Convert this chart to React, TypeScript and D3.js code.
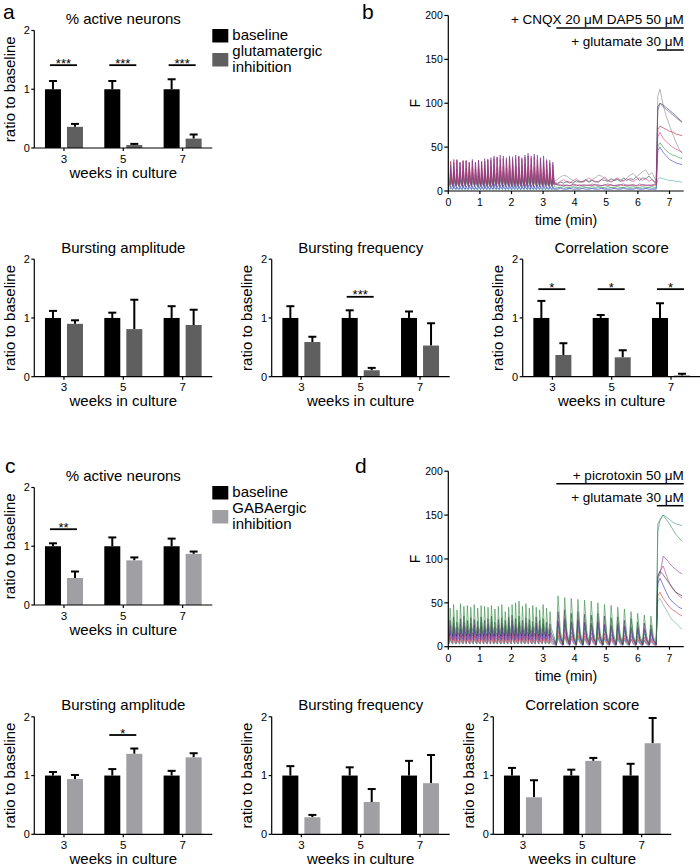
import React from "react";
import * as d3 from "d3";

const FONT = "'Liberation Sans', Arial, Helvetica, sans-serif";
const NARROW = "'Liberation Sans Narrow', 'Arial Narrow', 'Liberation Sans', sans-serif";

const weeks = ["3", "5", "7"];
const baseMean = [1, 1, 1];

// a: % active neurons, glutamatergic inhibition
const aBaseErr = [0.14, 0.14, 0.17];
const aGlutMean = [0.36, 0.05, 0.16];
const aGlutErr = [0.05, 0.02, 0.07];
const aSig: [string, number, string][] = [["3", 1.41, "***"], ["5", 1.41, "***"], ["7", 1.41, "***"]];

// glutamatergic row
const gAmpBaseErr = [0.12, 0.09, 0.2];
const gAmpMean = [0.9, 0.81, 0.88];
const gAmpErr = [0.06, 0.5, 0.26];
const gFreqBaseErr = [0.2, 0.13, 0.11];
const gFreqMean = [0.59, 0.11, 0.53];
const gFreqErr = [0.09, 0.04, 0.38];
const gFreqSig: [string, number, string][] = [["5", 1.36, "***"]];
const gCorrBaseErr = [0.29, 0.05, 0.25];
const gCorrMean = [0.37, 0.33, 0.02];
const gCorrErr = [0.2, 0.12, 0.03];
const gCorrSig: [string, number, string][] = [["3", 1.49, "*"], ["5", 1.49, "*"], ["7", 1.49, "*"]];

// c: % active neurons, GABAergic inhibition
const cBaseErr = [0.05, 0.15, 0.13];
const cGabaMean = [0.46, 0.76, 0.87];
const cGabaErr = [0.11, 0.05, 0.04];
const cSig: [string, number, string][] = [["3", 1.29, "**"]];

// GABAergic row
const hAmpBaseErr = [0.06, 0.11, 0.08];
const hAmpMean = [0.94, 1.37, 1.31];
const hAmpErr = [0.07, 0.09, 0.07];
const hAmpSig: [string, number, string][] = [["5", 1.69, "*"]];
const hFreqBaseErr = [0.16, 0.14, 0.25];
const hFreqMean = [0.29, 0.55, 0.87];
const hFreqErr = [0.04, 0.22, 0.48];
const hCorrBaseErr = [0.13, 0.1, 0.2];
const hCorrMean = [0.63, 1.25, 1.55];
const hCorrErr = [0.29, 0.05, 0.43];

// b: calcium traces (F), glutamatergic block
const bColors = ["#58b4b4", "#3c3cc8", "#8c8c8c", "#3c9b50", "#2f4f4f", "#d2458c", "#c0283c", "#7b3f98"];
const bBase = [1.5, 2, 6, 5, 7, 6, 8, 5];
const bPeaks = [
  [4, 5, 4, 4, 5, 4, 5, 4, 4, 5, 4, 5, 4, 5, 5, 4, 5, 5, 4, 5, 5, 4, 4, 5, 5, 4, 5, 4, 5, 4, 4, 4, 4, 3],
  [6, 7, 5, 6, 7, 6, 7, 6, 5, 7, 6, 7, 6, 7, 8, 6, 7, 7, 6, 7, 8, 7, 6, 7, 8, 7, 7, 6, 7, 6, 7, 5, 6, 5],
  [11, 12, 10, 12, 13, 11, 12, 11, 10, 12, 11, 13, 12, 12, 14, 11, 13, 12, 11, 13, 14, 12, 11, 13, 14, 12, 13, 11, 13, 11, 12, 10, 11, 10],
  [15, 17, 14, 16, 18, 15, 17, 16, 14, 17, 15, 18, 16, 17, 19, 16, 18, 17, 15, 18, 19, 17, 16, 18, 20, 17, 19, 16, 18, 15, 17, 14, 16, 13],
  [20, 22, 19, 21, 23, 20, 22, 21, 19, 22, 20, 23, 21, 22, 24, 21, 23, 22, 20, 23, 24, 22, 21, 23, 25, 22, 24, 21, 23, 20, 22, 19, 21, 18],
  [26, 28, 25, 27, 29, 26, 28, 27, 25, 28, 26, 29, 27, 28, 30, 27, 29, 28, 26, 29, 30, 28, 27, 29, 31, 28, 30, 27, 29, 26, 28, 25, 27, 24],
  [34, 33, 36, 32, 34, 35, 33, 34, 32, 35, 33, 34, 36, 35, 37, 38, 36, 37, 35, 38, 36, 37, 39, 36, 38, 40, 37, 39, 36, 37, 35, 34, 32, 30],
  [30, 36, 35, 33, 35, 34, 32, 36, 33, 35, 34, 37, 36, 38, 40, 39, 41, 40, 38, 40, 39, 41, 40, 38, 41, 43, 40, 42, 41, 38, 40, 36, 35, 33],
];
const bMid = [
  [3, 3, 4, 3, 3, 3, 4, 3, 3, 3, 4, 3, 3, 3, 4, 3, 3, 3, 4, 3, 3, 3, 4, 3, 3, 3, 4, 3, 3, 3, 4, 3, 3],
  [2, 2, 3, 2, 2, 3, 2, 2, 2, 3, 2, 2, 3, 2, 2, 3, 2, 2, 2, 3, 2, 2, 3, 2, 2, 2, 3, 2, 2, 3, 2, 2, 2],
  [11, 13, 16, 18, 17, 14, 12, 10, 11, 10, 12, 11, 13, 15, 18, 17, 14, 12, 11, 12, 14, 13, 11, 15, 18, 20, 16, 19, 22, 24, 18, 21, 13],
  [5, 4, 4, 5, 4, 4, 5, 4, 4, 5, 4, 4, 5, 4, 5, 4, 4, 5, 4, 4, 5, 4, 4, 5, 4, 5, 4, 4, 5, 4, 4, 5, 4],
  [9, 8, 10, 9, 11, 10, 9, 12, 10, 11, 13, 10, 12, 11, 10, 13, 12, 11, 14, 12, 13, 11, 15, 12, 14, 13, 16, 12, 15, 14, 17, 13, 10],
  [10, 9, 11, 13, 10, 9, 12, 14, 11, 10, 12, 15, 12, 10, 11, 13, 16, 12, 10, 13, 15, 11, 12, 14, 12, 11, 13, 15, 12, 14, 11, 13, 9],
  [8, 7, 6, 7, 6, 6, 7, 6, 7, 6, 6, 7, 6, 7, 6, 6, 7, 6, 7, 6, 6, 7, 6, 7, 6, 7, 6, 6, 7, 6, 7, 6, 7],
  [8, 7, 7, 6, 7, 6, 8, 7, 6, 7, 7, 6, 8, 7, 7, 6, 7, 8, 7, 6, 7, 7, 8, 6, 7, 7, 6, 8, 7, 7, 6, 7, 8],
];
const postT = [6.58, 6.63, 6.7, 6.8, 6.9, 7.0, 7.1, 7.2, 7.3, 7.4];
const bPost = [
  [3, 14, 15, 14, 13, 12, 12, 11, 11, 10],
  [2, 46, 50, 44, 40, 36, 34, 32, 31, 30],
  [13, 108, 116, 98, 85, 75, 65, 56, 48, 43],
  [5, 50, 55, 50, 46, 43, 41, 40, 38, 37],
  [10, 96, 100, 98, 95, 92, 89, 86, 82, 79],
  [9, 62, 67, 60, 56, 53, 50, 48, 46, 44],
  [7, 70, 74, 72, 70, 68, 67, 65, 64, 63],
  [7, 92, 100, 96, 93, 90, 87, 84, 81, 78],
];

// d: calcium traces (F), GABAergic block
const dColors = ["#6aa89a", "#4a8faa", "#d23c3c", "#c8407e", "#3838c0", "#8a3f9a", "#2c3440", "#3a8f4a"];
const dBase1 = [3, 3, 4, 6, 8, 10, 12, 15];
const dPeaks1 = [
  [20, 24, 19, 22, 25, 21, 23, 22, 20, 24, 21, 23, 25, 19, 22, 24, 21, 25, 26, 23, 25, 21, 23, 22, 20, 24, 21, 23, 19, 18],
  [9, 10, 8, 9, 10, 9, 10, 9, 8, 10, 9, 9, 10, 8, 9, 10, 9, 10, 11, 9, 10, 9, 9, 10, 8, 10, 9, 9, 8, 7],
  [11, 13, 10, 12, 13, 11, 12, 12, 10, 13, 11, 12, 13, 10, 12, 13, 11, 13, 14, 12, 13, 11, 12, 12, 10, 13, 11, 12, 10, 9],
  [15, 17, 14, 16, 18, 15, 17, 16, 14, 17, 15, 16, 18, 14, 16, 17, 15, 18, 19, 16, 18, 15, 17, 16, 14, 17, 15, 16, 14, 13],
  [18, 22, 17, 20, 23, 19, 21, 20, 18, 22, 19, 21, 23, 17, 20, 22, 19, 23, 24, 21, 23, 19, 21, 20, 18, 22, 19, 21, 17, 16],
  [24, 27, 22, 26, 28, 24, 27, 25, 23, 28, 24, 26, 28, 22, 25, 27, 24, 28, 30, 26, 28, 24, 27, 25, 23, 27, 24, 26, 22, 20],
  [30, 34, 28, 32, 35, 30, 33, 31, 29, 34, 30, 32, 35, 28, 31, 33, 30, 34, 36, 32, 35, 30, 33, 31, 29, 34, 30, 32, 28, 26],
  [44, 48, 42, 49, 46, 47, 45, 48, 44, 47, 46, 45, 47, 43, 46, 48, 40, 45, 48, 50, 52, 46, 49, 44, 47, 45, 42, 48, 44, 40],
];
const dBase2 = [4, 1, 2, 2, 2, 3, 3, 4];
const dPeaks2 = [
  [24, 26, 22, 24, 21, 21, 23, 20, 19, 20, 18, 17, 16, 15, 14],
  [10, 11, 9, 10, 9, 9, 10, 9, 8, 9, 8, 8, 7, 7, 6],
  [13, 14, 12, 13, 12, 11, 12, 11, 10, 11, 10, 9, 9, 8, 8],
  [18, 20, 17, 19, 16, 16, 17, 15, 14, 15, 13, 13, 12, 11, 10],
  [28, 30, 27, 29, 26, 25, 27, 24, 23, 24, 22, 21, 20, 19, 18],
  [30, 32, 29, 31, 28, 27, 29, 26, 25, 26, 24, 23, 22, 21, 20],
  [40, 42, 38, 40, 37, 36, 38, 35, 33, 34, 30, 32, 28, 27, 25],
  [58, 56, 55, 54, 53, 52, 50, 48, 47, 45, 43, 40, 38, 36, 35],
];
const dPost = [
  [4, 52, 55, 48, 42, 35, 30, 27, 23, 20],
  [1, 130, 145, 150, 148, 145, 142, 140, 139, 138],
  [2, 58, 62, 55, 50, 45, 42, 40, 37, 35],
  [2, 80, 86, 92, 82, 72, 66, 62, 58, 55],
  [2, 72, 78, 70, 62, 55, 51, 48, 45, 43],
  [3, 78, 82, 103, 100, 95, 91, 88, 85, 83],
  [3, 80, 86, 82, 77, 72, 67, 62, 60, 58],
  [4, 140, 144, 150, 145, 140, 134, 128, 124, 120],
];

const GLUT = "#5f5f5f";
const GABA = "#a0a0a4";

type Pt = [number, number];

function spikes(start: number, period: number, peaks: number[], base: number): Pt[] {
  const pts: Pt[] = [];
  peaks.forEach((p, i) => {
    const t = start + i * period;
    pts.push([t, base], [t + period * 0.25, p], [t + period * 0.6, base + (p - base) * 0.25]);
  });
  return pts;
}

function BarPanel(props: {
  ox: number; oy: number; title: string; baseErr: number[]; mean: number[]; err: number[];
  color: string; sig: [string, number, string][];
}) {
  const { ox, oy, title, baseErr, mean, err, color, sig } = props;
  const x = d3.scaleBand<string>().domain(weeks).range([ox, ox + 178]);
  const inner = d3.scaleBand<string>().domain(["base", "treat"]).range([0, x.bandwidth()])
    .paddingInner(0.273).paddingOuter(0.484);
  const y = d3.scaleLinear().domain([0, 2]).range([oy, oy - 117.5]);
  const bw = inner.bandwidth();
  const mid = x("5")! + x.bandwidth() / 2;
  return (
    <g>
      {weeks.map((w, i) =>
        [
          { k: "base", v: baseMean[i], e: baseErr[i], fill: "#000" },
          { k: "treat", v: mean[i], e: err[i], fill: color },
        ].map((d) => {
          const bx = x(w)! + inner(d.k)!;
          const cx = bx + bw / 2;
          const top = y(d.v + d.e);
          return (
            <g key={w + d.k}>
              <line x1={cx} x2={cx} y1={y(d.v)} y2={top} stroke="#000" strokeWidth={2} />
              <line x1={cx - 4} x2={cx + 4} y1={top} y2={top} stroke="#000" strokeWidth={2} />
              <rect x={bx} y={y(d.v)} width={bw} height={oy - y(d.v)} fill={d.fill} />
            </g>
          );
        })
      )}
      {sig.map(([w, v, lab]) => {
        const x1 = x(w)! + inner("base")! + 5;
        const x2 = x(w)! + inner("treat")! + bw - 6;
        return (
          <g key={"s" + w}>
            <line x1={x1} x2={x2} y1={y(v)} y2={y(v)} stroke="#000" strokeWidth={1.8} />
            <text x={(x1 + x2) / 2} y={y(v) + 2.5} textAnchor="middle" fontSize={13}>{lab}</text>
          </g>
        );
      })}
      <line x1={ox} x2={ox} y1={oy} y2={y(2)} stroke="#000" strokeWidth={1.2} />
      <line x1={ox} x2={ox + 178} y1={oy} y2={oy} stroke="#000" strokeWidth={1.2} />
      {[0, 1, 2].map((t) => (
        <g key={"yt" + t}>
          <line x1={ox - 3} x2={ox} y1={y(t)} y2={y(t)} stroke="#000" strokeWidth={1.2} />
          <text x={ox - 4.5} y={y(t)} dy="0.35em" textAnchor="end" fontSize={11} fontFamily={NARROW}>{t}</text>
        </g>
      ))}
      {weeks.map((w) => (
        <g key={"xt" + w}>
          <line x1={x(w)! + x.bandwidth() / 2} x2={x(w)! + x.bandwidth() / 2} y1={oy} y2={oy + 3} stroke="#000" strokeWidth={1.2} />
          <text x={x(w)! + x.bandwidth() / 2} y={oy + 14.5} textAnchor="middle" fontSize={11.5} fontFamily={NARROW}>{w}</text>
        </g>
      ))}
      <text x={mid} y={oy - 124} textAnchor="middle" fontSize={15}>{title}</text>
      <text x={mid} y={oy + 29.5} textAnchor="middle" fontSize={15}>weeks in culture</text>
      <text transform={`translate(${ox - 19.5},${y(1)}) rotate(-90)`} textAnchor="middle" fontSize={15}>ratio to baseline</text>
    </g>
  );
}

function Legend({ ox, oy, color, label }: { ox: number; oy: number; color: string; label: string }) {
  const lx = ox + 178;
  return (
    <g>
      <rect x={lx} y={oy - 119} width={16} height={13.5} fill="#000" />
      <rect x={lx} y={oy - 95} width={16} height={13.5} fill={color} />
      <text x={lx + 20} y={oy - 108} fontSize={15}>baseline</text>
      <text x={lx + 20} y={oy - 92} fontSize={15}>{label}</text>
      <text x={lx + 20} y={oy - 76} fontSize={15}>inhibition</text>
    </g>
  );
}

function TracePanel(props: { ox: number; oy: number; traces: Pt[][]; colors: string[]; drug: string }) {
  const { ox, oy, traces, colors, drug } = props;
  const x = d3.scaleLinear().domain([0, 7.45]).range([ox, ox + 235.4]);
  const y = d3.scaleLinear().domain([0, 200]).range([oy, oy - 175.5]);
  const line = d3.line<Pt>().x((d) => x(d[0])).y((d) => y(d[1]));
  const right = x(7.45);
  return (
    <g>
      {traces.map((pts, k) => (
        <path key={k} d={line(pts) ?? ""} fill="none" stroke={colors[k]} strokeWidth={0.7} strokeOpacity={0.9} />
      ))}
      <line x1={ox} x2={ox} y1={oy} y2={y(200)} stroke="#000" strokeWidth={1.2} />
      <line x1={ox} x2={right} y1={oy} y2={oy} stroke="#000" strokeWidth={1.2} />
      {[0, 50, 100, 150, 200].map((t) => (
        <g key={"yt" + t}>
          <line x1={ox - 4} x2={ox} y1={y(t)} y2={y(t)} stroke="#000" strokeWidth={1.2} />
          <text x={ox - 5.5} y={y(t)} dy="0.35em" textAnchor="end" fontSize={10.5} fontFamily={NARROW}>{t}</text>
        </g>
      ))}
      {d3.range(0, 8).map((t) => (
        <g key={"xt" + t}>
          <line x1={x(t)} x2={x(t)} y1={oy} y2={oy + 3} stroke="#000" strokeWidth={1.2} />
          <text x={x(t)} y={oy + 15} textAnchor="middle" fontSize={10.5} fontFamily={NARROW}>{t}</text>
        </g>
      ))}
      <text x={(ox + right) / 2} y={oy + 34} textAnchor="middle" fontSize={14}>time (min)</text>
      <text transform={`translate(${ox - 28},${y(100)}) rotate(-90)`} textAnchor="middle" fontSize={14}>F</text>
      <text x={right} y={oy - 167} textAnchor="end" fontSize={13.5}>{drug}</text>
      <line x1={x(3.42)} x2={right} y1={oy - 163} y2={oy - 163} stroke="#000" strokeWidth={1.5} />
      <text x={right} y={oy - 145} textAnchor="end" fontSize={13.5}>+ glutamate 30 μM</text>
      <line x1={x(6.6)} x2={right} y1={oy - 141} y2={oy - 141} stroke="#000" strokeWidth={1.5} />
    </g>
  );
}

export default function App() {
  const bTraces: Pt[][] = bColors.map((_, k) => [
    ...spikes(0.05, 0.098, bPeaks[k], bBase[k]),
    ...bMid[k].map((v, i) => [3.35 + i * 0.1, v] as Pt),
    ...postT.map((t, i) => [t, bPost[k][i]] as Pt),
  ]);
  const dTraces: Pt[][] = dColors.map((_, k) => [
    ...spikes(0.03, 0.109, dPeaks1[k], dBase1[k]),
    ...spikes(3.42, 0.21, dPeaks2[k], dBase2[k]),
    ...postT.map((t, i) => [t, dPost[k][i]] as Pt),
  ]);
  return (
    <svg width={700} height={865} style={{ position: "absolute", left: 0, top: 0, background: "#fff" }}
      fontFamily={FONT}>
      <rect width={700} height={865} fill="#fff" />
      <text x={3} y={19} fontSize={21}>a</text>
      <text x={362} y={19} fontSize={21}>b</text>
      <text x={5} y={473} fontSize={21}>c</text>
      <text x={355} y={473} fontSize={21}>d</text>

      <BarPanel ox={34.3} oy={148} title="% active neurons" baseErr={aBaseErr} mean={aGlutMean} err={aGlutErr} color={GLUT} sig={aSig} />
      <Legend ox={34.3} oy={148} color={GLUT} label="glutamatergic" />
      <TracePanel ox={448.3} oy={191} traces={bTraces} colors={bColors} drug="+ CNQX 20 μM DAP5 50 μM" />

      <BarPanel ox={34.3} oy={376.7} title="Bursting amplitude" baseErr={gAmpBaseErr} mean={gAmpMean} err={gAmpErr} color={GLUT} sig={[]} />
      <BarPanel ox={271.7} oy={376.7} title="Bursting frequency" baseErr={gFreqBaseErr} mean={gFreqMean} err={gFreqErr} color={GLUT} sig={gFreqSig} />
      <BarPanel ox={522.7} oy={376.7} title="Correlation score" baseErr={gCorrBaseErr} mean={gCorrMean} err={gCorrErr} color={GLUT} sig={gCorrSig} />

      <BarPanel ox={34.3} oy={605} title="% active neurons" baseErr={cBaseErr} mean={cGabaMean} err={cGabaErr} color={GABA} sig={cSig} />
      <Legend ox={34.3} oy={605} color={GABA} label="GABAergic" />
      <TracePanel ox={448.3} oy={646.7} traces={dTraces} colors={dColors} drug="+ picrotoxin 50 μM" />

      <BarPanel ox={34.3} oy={834.3} title="Bursting amplitude" baseErr={hAmpBaseErr} mean={hAmpMean} err={hAmpErr} color={GABA} sig={hAmpSig} />
      <BarPanel ox={271.7} oy={834.3} title="Bursting frequency" baseErr={hFreqBaseErr} mean={hFreqMean} err={hFreqErr} color={GABA} sig={[]} />
      <BarPanel ox={493.3} oy={834.3} title="Correlation score" baseErr={hCorrBaseErr} mean={hCorrMean} err={hCorrErr} color={GABA} sig={[]} />
    </svg>
  );
}
